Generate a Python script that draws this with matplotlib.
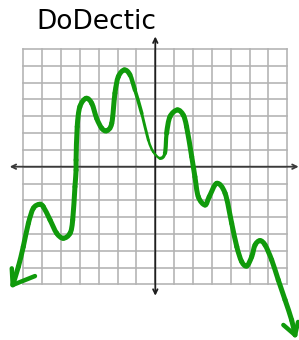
import numpy as np
import matplotlib
matplotlib.use('Agg')
import matplotlib.pyplot as plt
from matplotlib.path import Path
from matplotlib.patches import PathPatch

# curve, one unit = one grid cell
curve_x = [-7.56, -7.26, -7.00, -6.73, -6.47, -6.15, -5.94, -5.58, -5.23, -4.88,
           -4.52, -4.38, -4.26, -4.20, -4.20, -4.14, -4.00, -3.67, -3.37, -3.11,
           -2.84, -2.58, -2.31, -2.14, -1.96, -1.64, -1.34, -1.08, -0.72, -0.37,
           -0.11, 0.25, 0.51, 0.60, 0.78, 1.17, 1.48, 1.66, 1.93, 2.10,
           2.28, 2.64, 2.86, 3.26, 3.70, 4.05, 4.32, 4.58, 4.85, 5.11,
           5.29, 5.55, 5.82, 6.17, 6.52, 6.88, 7.23, 7.41]
curve_y = [-7.04, -5.95, -4.76, -3.37, -2.48, -2.24, -2.38, -3.17, -3.96, -4.26,
           -3.96, -3.17, -1.19, -0.20, 0.40, 2.38, 3.57, 4.07, 3.77, 2.88,
           2.29, 2.14, 2.58, 4.37, 5.36, 5.76, 5.46, 4.57, 3.18, 1.59,
           0.89, 0.50, 0.80, 1.99, 2.98, 3.38, 3.08, 2.38, 0.60, -0.60,
           -1.79, -2.28, -1.79, -0.99, -1.58, -3.37, -4.76, -5.65, -5.91, -5.36,
           -4.66, -4.40, -4.66, -5.55, -6.74, -7.93, -9.13, -10.02]

# hand drawn arrow heads at both ends of the curve
left_head_x = [-7.61, -7.56, -6.38]
left_head_y = [-6.05, -7.04, -6.51]
right_head_x = [6.79, 7.41, 7.57]
right_head_y = [-9.42, -10.02, -9.24]

TITLE = 'DoDectic'
GREEN = '#109a0b'
GRID_N = 7
LW_THICK = 3.6
# pen pressure eases off on the long slide down into the dip near the origin
TAPER = {26: 3.2, 27: 2.6, 28: 2.1, 29: 1.8, 30: 1.7, 31: 2.3, 32: 3.0}


def seg_path(P, i):
    """one Catmull-Rom piece between traced points i and i+1, as a cubic bezier."""
    n = len(P)
    p0, p1, p2, p3 = P[max(i - 1, 0)], P[i], P[i + 1], P[min(i + 2, n - 1)]
    verts = [p1, p1 + (p2 - p0) / 6, p2 - (p3 - p1) / 6, p2]
    return Path(verts, [Path.MOVETO] + [Path.CURVE4] * 3)


W, H = 299, 340
fig = plt.figure(figsize=(W / 100, H / 100), dpi=100)
ax = fig.add_axes([0, 0, 1, 1])
ax.set_axis_off()
ax.set_xlim((0 - 155.3) / 18.86, (W - 155.3) / 18.86)
ax.set_ylim((166.7 - H) / 16.8, 166.7 / 16.8)

# grid
for k in range(-GRID_N, GRID_N + 1):
    ax.plot([k, k], [-GRID_N, GRID_N], color='#b2b2b2', lw=1.15, zorder=1)
    ax.plot([-GRID_N, GRID_N], [k, k], color='#b2b2b2', lw=1.15, zorder=1)

# axes with arrows
ax.annotate('', xy=(-7.72, 0), xytext=(7.6, 0),
            arrowprops=dict(arrowstyle='<->', color='#3a3a3a', lw=1.3,
                            mutation_scale=8, shrinkA=0, shrinkB=0), zorder=2)
ax.annotate('', xy=(0, 7.75), xytext=(0, -7.68),
            arrowprops=dict(arrowstyle='<->', color='#1e1e1e', lw=1.3,
                            mutation_scale=8, shrinkA=0, shrinkB=0), zorder=2)

# curve
P = np.column_stack([curve_x, curve_y])
for i in range(len(P) - 1):
    ax.add_patch(PathPatch(seg_path(P, i), facecolor='none', edgecolor=GREEN,
                           lw=TAPER.get(i, LW_THICK), capstyle='round',
                           joinstyle='round', zorder=3, clip_on=False))

ax.plot(left_head_x, left_head_y, color=GREEN, lw=3.2, solid_capstyle='round',
        solid_joinstyle='round', zorder=3, clip_on=False)
ax.plot(right_head_x, right_head_y, color=GREEN, lw=3.2, solid_capstyle='round',
        solid_joinstyle='round', zorder=3, clip_on=False)

fig.text(36 / W, 1 - 22 / H, TITLE, ha='left', va='center', fontsize=19,
         fontfamily='DejaVu Sans', color='black')

fig.savefig('out.png', dpi=100, facecolor='white')
